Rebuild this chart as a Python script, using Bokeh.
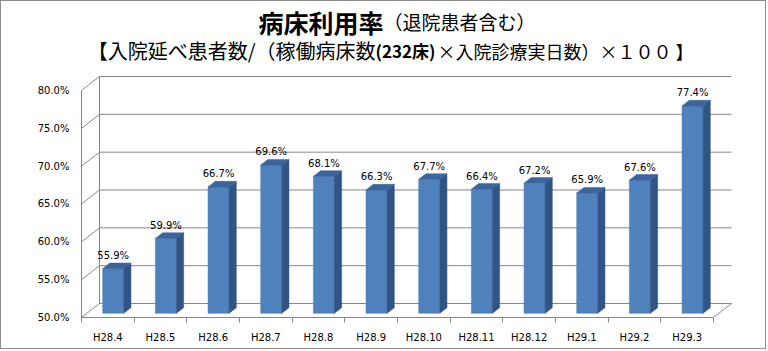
from bokeh.plotting import figure
from bokeh.models import Range1d, FixedTicker, PrintfTickFormatter
from bokeh.core.properties import value
from bokeh.embed import file_html
from bokeh.resources import INLINE

categories = ["H28.4", "H28.5", "H28.6", "H28.7", "H28.8", "H28.9",
              "H28.10", "H28.11", "H28.12", "H29.1", "H29.2", "H29.3"]
rates = [55.9, 59.9, 66.7, 69.6, 68.1, 66.3, 67.7, 66.4, 67.2, 65.9, 67.6, 77.4]
y_ticks = [50, 55, 60, 65, 70, 75, 80]
title_bold = "病床利用率"
title_rest = "（退院患者含む）"
sub_a = "【入院延べ患者数/（稼働病床数"
sub_b = "(232床)"
sub_c = "×入院診療実日数）×１００ 】"

W, H = 766, 349
L, B = 80, 316          # canvas px of the front value axis and of the 50% floor edge
SX, SY = 52.667, 7.567  # px per category, px per percent
DX, DY = 18 / SX, 14 / SY
FRONT, DEPTH = 0.3, 0.4
BW = 0.4
YMIN, YMAX = y_ticks[0], y_ticks[-1]
N = len(categories)

GRID = "#868686"
FONT = "DejaVu Sans"
JP = "Noto Sans CJK JP"


def px_x(px):
    return (px - 1 - L) / SX


def px_y(py):
    return YMIN + (B - (py - 1)) / SY


p = figure(width=W, height=H, output_backend="svg", toolbar_location=None,
           x_range=Range1d(0, (W - L) / SX), y_range=Range1d(YMIN, YMIN + B / SY),
           min_border_left=L, min_border_right=0, min_border_top=0,
           min_border_bottom=H - B)
p.styles = {"border": "1px solid #8c8c8c"}
p.grid.visible = False
p.outline_line_color = None
p.background_fill_color = "white"
p.border_fill_color = "white"

# axes
p.xaxis.ticker = FixedTicker(ticks=[i + 0.5 for i in range(N)], minor_ticks=list(range(N + 1)))
p.xaxis.major_label_overrides = {i + 0.5: c for i, c in enumerate(categories)}
p.xaxis.bounds = (0, N)
p.xaxis.major_tick_out = 0
p.xaxis.major_tick_in = 0
p.xaxis.minor_tick_out = 5
p.xaxis.minor_tick_in = 0
p.xaxis.minor_tick_line_color = GRID
p.xaxis.axis_line_color = GRID
p.xaxis.major_label_standoff = 9
p.xaxis.major_label_text_font = FONT
p.xaxis.major_label_text_font_size = "10px"
p.xaxis.major_label_text_color = "black"

p.yaxis.ticker = FixedTicker(ticks=y_ticks, minor_ticks=[])
p.yaxis.formatter = PrintfTickFormatter(format="%.1f%%")
p.yaxis.bounds = (YMIN, YMAX)
p.yaxis.major_tick_out = 0
p.yaxis.major_tick_in = 0
p.yaxis.axis_line_color = GRID
p.yaxis.major_label_standoff = 12
p.yaxis.major_label_text_font = FONT
p.yaxis.major_label_text_font_size = "10px"
p.yaxis.major_label_text_color = "black"

# back wall gridlines
p.segment(x0=[DX] * len(y_ticks), y0=[v + DY for v in y_ticks],
          x1=[N + DX] * len(y_ticks), y1=[v + DY for v in y_ticks],
          line_color=GRID, line_width=1)
# side wall diagonals
p.segment(x0=[0] * len(y_ticks), y0=y_ticks,
          x1=[DX] * len(y_ticks), y1=[v + DY for v in y_ticks],
          line_color=GRID, line_width=1)
# back-left vertical edge and floor right edge
p.segment(x0=[DX, N], y0=[YMIN + DY, YMIN], x1=[DX, N + DX], y1=[YMAX + DY, YMIN + DY],
          line_color=GRID, line_width=1)

# bars
fx, fy = FRONT * DX, FRONT * DY
bx, by = DEPTH * DX, DEPTH * DY
front_xs, front_ys, side_xs, side_ys, top_xs, top_ys = [], [], [], [], [], []
lab_x, lab_y = [], []
for i, v in enumerate(rates):
    xl = i + 0.5 - BW / 2 + fx
    xr = i + 0.5 + BW / 2 + fx
    yb = YMIN + fy
    yt = v + fy
    front_xs.append([xl, xr, xr, xl])
    front_ys.append([yb, yb, yt, yt])
    side_xs.append([xr, xr + bx, xr + bx, xr])
    side_ys.append([yb, yb + by, yt + by, yt])
    top_xs.append([xl, xr, xr + bx, xl + bx])
    top_ys.append([yt, yt, yt + by, yt + by])
    lab_x.append(i + 0.5 + fx)
    lab_y.append(yt + by)

p.patches(front_xs, front_ys, fill_color="#4f81bd", line_color="#4a7ab3", line_width=0.5)
p.patches(side_xs, side_ys, fill_color="#2f5485", line_color="#2f5485", line_width=0.5)
p.patches(top_xs, top_ys, fill_color="#3c659c", line_color="#3c659c", line_width=0.5)

p.text(x=lab_x, y=lab_y, text=[f"{v:.1f}%" for v in rates], text_align="center",
       text_baseline="bottom", y_offset=-2, text_font=value(FONT),
       text_font_size="10px", text_color="black")

# titles
p.text(x=[px_x(383)], y=[px_y(21)], text=[title_bold], text_align="right",
       text_baseline="middle", text_font=value(JP), text_font_style="bold",
       text_font_size="25px", text_color="black")
p.text(x=[px_x(383)], y=[px_y(21)], text=[title_rest], text_align="left",
       text_baseline="middle", text_font=value(JP),
       text_font_size="19px", text_color="black")
p.text(x=[px_x(375)], y=[px_y(50)], text=[sub_a], text_align="right",
       text_baseline="middle", text_font=value(JP),
       text_font_size="20px", text_color="black")
p.text(x=[px_x(375)], y=[px_y(50)], text=[sub_b], text_align="left",
       text_baseline="middle", text_font=value(JP), text_font_style="bold",
       text_font_size="17px", text_color="black")
p.text(x=[px_x(437)], y=[px_y(50)], text=[sub_c], text_align="left",
       text_baseline="middle", text_font=value(JP),
       text_font_size="18px", text_color="black")

open("out.html", "w").write(file_html(p, INLINE))
